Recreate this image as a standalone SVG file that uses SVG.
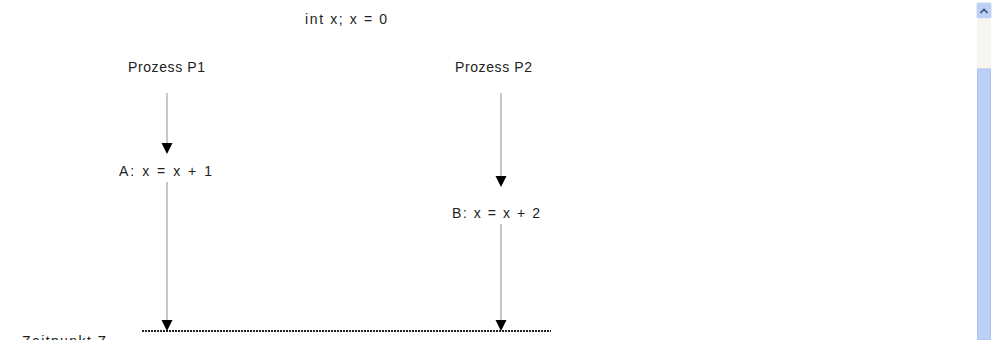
<svg xmlns="http://www.w3.org/2000/svg" width="1000" height="340" viewBox="0 0 1000 340">
<style>
text{font-family:"Liberation Sans",Arial,sans-serif;font-size:14px;fill:#222;letter-spacing:1px}
.ln{stroke:#b4b4b4;stroke-width:1.5;fill:none}
.ah{fill:#000}
</style>
<rect width="1000" height="340" fill="#fff"/>
<g id="header"><text x="305" y="24" textLength="83" lengthAdjust="spacing">int x; x = 0</text></g>
<g id="p1"><text x="128" y="72" textLength="78" lengthAdjust="spacing">Prozess P1</text></g>
<g id="p2"><text x="455" y="72" textLength="78" lengthAdjust="spacing">Prozess P2</text></g>
<g id="a"><text x="119" y="176" textLength="94" lengthAdjust="spacing">A: x = x + 1</text></g>
<g id="b"><text x="452" y="218" textLength="89" lengthAdjust="spacing">B: x = x + 2</text></g>
<g id="zeit"><text x="22" y="346" textLength="85" lengthAdjust="spacing">Zeitpunkt Z</text><line x1="142" y1="331" x2="551" y2="331" stroke="#222" stroke-width="2" stroke-dasharray="2,1"/></g>
<g id="connectors">
<line class="ln" x1="167" y1="93" x2="167" y2="143"/><polygon class="ah" points="161.5,143 172.5,143 167,154"/>
<line class="ln" x1="167" y1="182" x2="167" y2="320"/><polygon class="ah" points="161.5,320 172.5,320 167,331"/>
<line class="ln" x1="501" y1="93" x2="501" y2="176"/><polygon class="ah" points="495.5,176 506.5,176 501,187"/>
<line class="ln" x1="501" y1="224" x2="501" y2="320"/><polygon class="ah" points="495.5,320 506.5,320 501,331"/>
</g>
<g id="scrollbar">
<rect x="977" y="19" width="14" height="50" fill="#f7f5ef"/>
<rect x="977" y="3" width="14" height="15" rx="1" fill="#bcd0f5" stroke="#c8d6f2"/>
<path d="M980.5 13 L984 9.5 L987.5 13" stroke="#3a4d78" stroke-width="1.6" fill="none"/>
<rect x="977.5" y="69" width="13" height="271" fill="#bcd1f7" stroke="#a9c0ee"/>
</g>
</svg>
